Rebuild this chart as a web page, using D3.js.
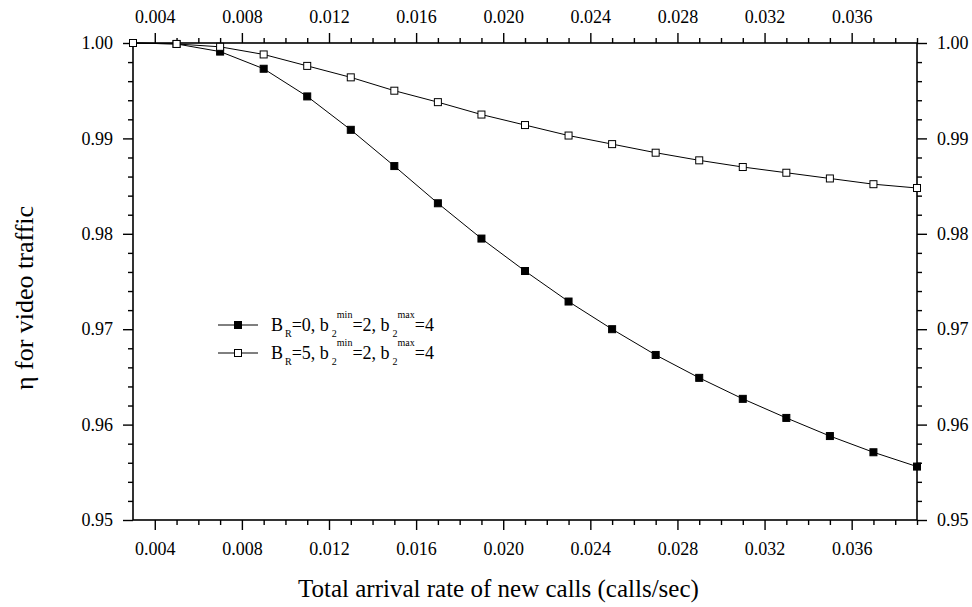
<!DOCTYPE html>
<html><head><meta charset="utf-8">
<script src="https://cdn.jsdelivr.net/npm/d3@7"></script>
<style>body{margin:0;background:#fff}svg{display:block}</style>
</head><body>
<svg id="c" width="972" height="607"></svg>
<script>
const xValues = [0.003,0.005,0.007,0.009,0.011,0.013,0.015,0.017,0.019,0.021,0.023,0.025,0.027,0.029,0.031,0.033,0.035,0.037,0.039];
const seriesBR0 = [1.0000,0.9999,0.9991,0.9973,0.9944,0.9909,0.9871,0.9832,0.9795,0.9761,0.9729,0.9700,0.9673,0.9649,0.9627,0.9607,0.9588,0.9571,0.9556];
const seriesBR5 = [1.0000,0.9999,0.9996,0.9988,0.9976,0.9964,0.9950,0.9938,0.9925,0.9914,0.9903,0.9894,0.9885,0.9877,0.9870,0.9864,0.9858,0.9852,0.9848];
const xMajorTicks = [0.004,0.008,0.012,0.016,0.020,0.024,0.028,0.032,0.036];
const yMajorTicks = [0.95,0.96,0.97,0.98,0.99,1.00];
const xLabel = "Total arrival rate of new calls (calls/sec)";
const yLabel = "η for video traffic";

const FONT = '"Liberation Serif","Times New Roman",serif';
const svg = d3.select("#c").attr("font-family",FONT);
const L=133, R=917, T=43, B=520;
const x = d3.scaleLinear().domain([0.003,0.039]).range([L,R]);
const y = d3.scaleLinear().domain([0.95,1.00]).range([B,T]);

const xMinor = d3.range(4,40).map(d=>d/1000).filter(d=>!xMajorTicks.some(m=>Math.abs(m-d)<1e-9));
const yMinor = d3.range(950,1001,2).map(d=>d/1000).filter(d=>!yMajorTicks.some(m=>Math.abs(m-d)<1e-9));

function styleAxis(g){
  g.attr("font-family",FONT).attr("font-size",18);
  g.select(".domain").remove();
  g.selectAll(".tick line").attr("stroke","#000").attr("stroke-width",1.4);
  g.selectAll("text").attr("fill","#000");
}
svg.append("g").attr("transform",`translate(0,${B})`)
  .call(d3.axisBottom(x).tickValues(xMinor).tickSize(5).tickFormat("")).call(styleAxis);
svg.append("g").attr("transform",`translate(0,${B})`)
  .call(d3.axisBottom(x).tickValues(xMajorTicks).tickSize(10).tickPadding(12).tickFormat(d3.format(".3f"))).call(styleAxis);
svg.append("g").attr("transform",`translate(0,${T})`)
  .call(d3.axisTop(x).tickValues(xMinor).tickSize(5).tickFormat("")).call(styleAxis);
svg.append("g").attr("transform",`translate(0,${T})`)
  .call(d3.axisTop(x).tickValues(xMajorTicks).tickSize(10).tickPadding(10).tickFormat(d3.format(".3f"))).call(styleAxis);
svg.append("g").attr("transform",`translate(${L},0)`)
  .call(d3.axisLeft(y).tickValues(yMinor).tickSize(5).tickFormat("")).call(styleAxis);
svg.append("g").attr("transform",`translate(${L},0)`)
  .call(d3.axisLeft(y).tickValues(yMajorTicks).tickSize(10).tickPadding(10).tickFormat(d3.format(".2f"))).call(styleAxis);
svg.append("g").attr("transform",`translate(${R},0)`)
  .call(d3.axisRight(y).tickValues(yMinor).tickSize(5).tickFormat("")).call(styleAxis);
svg.append("g").attr("transform",`translate(${R},0)`)
  .call(d3.axisRight(y).tickValues(yMajorTicks).tickSize(10).tickPadding(10).tickFormat(d3.format(".2f"))).call(styleAxis);

svg.append("rect").attr("x",L).attr("y",T).attr("width",R-L).attr("height",B-T).attr("fill","none").attr("stroke","#000").attr("stroke-width",1.6);

const line = d3.line().x((d,i)=>x(xValues[i])).y(d=>y(d));
const series = [{v:seriesBR0, fill:"#000"},{v:seriesBR5, fill:"#fff"}];
const ms=7;
series.forEach(s=>{
  svg.append("path").attr("d",line(s.v)).attr("fill","none").attr("stroke","#000").attr("stroke-width",1);
  svg.append("g").selectAll("rect").data(s.v).join("rect")
    .attr("x",(d,i)=>x(xValues[i])-ms/2).attr("y",d=>y(d)-ms/2).attr("width",ms).attr("height",ms)
    .attr("fill",s.fill).attr("stroke","#000").attr("stroke-width",1);
});

const legendItems = [{fill:"#000", br:"0"},{fill:"#fff", br:"5"}];
legendItems.forEach((it,i)=>{
  const ly = 325 + i*28;
  const g = svg.append("g");
  g.append("line").attr("x1",218).attr("x2",258).attr("y1",ly).attr("y2",ly).attr("stroke","#000").attr("stroke-width",1);
  g.append("rect").attr("x",238-ms/2).attr("y",ly-ms/2).attr("width",ms).attr("height",ms).attr("fill",it.fill).attr("stroke","#000");
  const t = g.append("text").attr("x",271).attr("y",ly+6).attr("font-size",18);
  t.append("tspan").text("B");
  t.append("tspan").attr("dx",2).attr("dy",6).attr("font-size",10).text("R");
  t.append("tspan").attr("dy",-6).text("="+it.br+", b");
  t.append("tspan").attr("dx",3).attr("dy",6).attr("font-size",10).text("2");
  t.append("tspan").attr("dy",-19).attr("font-size",10).text("min");
  t.append("tspan").attr("dy",13).text("=2, b");
  t.append("tspan").attr("dx",3).attr("dy",6).attr("font-size",10).text("2");
  t.append("tspan").attr("dy",-19).attr("font-size",10).text("max");
  t.append("tspan").attr("dy",13).text("=4");
});

svg.append("text").attr("x",298).attr("y",597).attr("text-anchor","start").attr("font-size",25).text(xLabel);
svg.append("text").attr("transform",`translate(33,298) rotate(-90)`).attr("text-anchor","middle").attr("font-size",26).text(yLabel);
</script>
</body></html>
